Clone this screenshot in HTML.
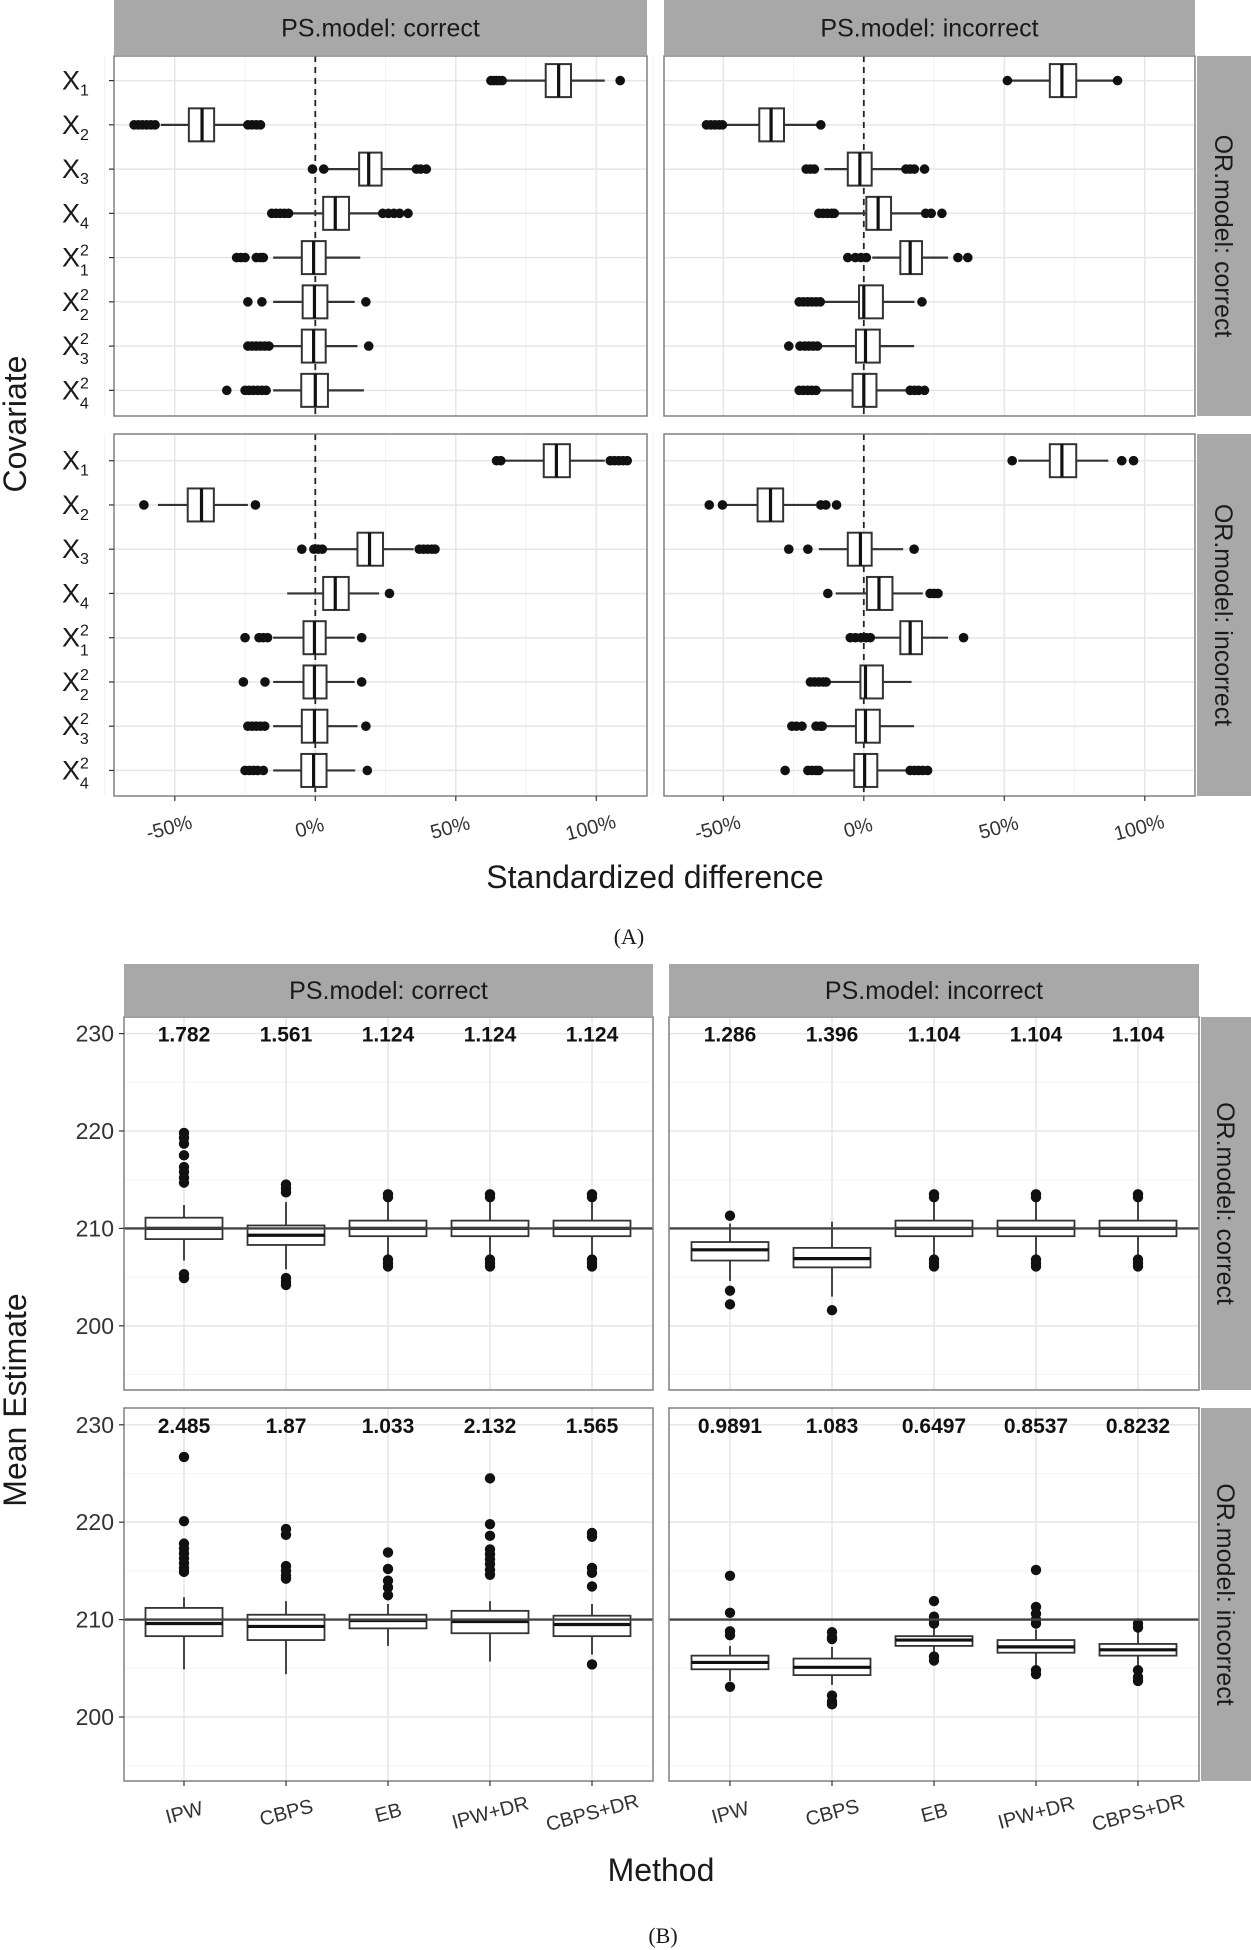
<!DOCTYPE html>
<html><head><meta charset="utf-8"><style>
html,body{margin:0;padding:0;background:#fff;}
svg{display:block;font-family:"Liberation Sans",sans-serif;}
</style></head><body>
<svg id="fig" width="1251" height="1950" viewBox="0 0 1251 1950" xmlns="http://www.w3.org/2000/svg"></svg>
<script>
// ---------- Data: chart A (standardized difference, %) ----------
const covIdx = ['1','2','3','4','1','2','3','4'];
const covSq = [false,false,false,false,true,true,true,true];
const balTicks = [-50,0,50,100];
const balTickLabels = ['-50%','0%','50%','100%'];
// stats rows: [whiskerLow, q1, median, q3, whiskerHigh]
const balTL_stats = [[67,82,86.6,91,103],[-55,-45,-40.3,-36,-25],[3,15.6,19,23.6,35],[-8,2.8,7.1,12,23],[-15,-4.8,-0.6,3.7,16],[-15,-4.5,-0.3,4.3,14],[-15,-4.8,-0.6,3.7,15],[-15,-5,0,4.5,17.3]];
const balTL_out = [[62.5,63.5,64.5,65.5,66.5,108.5],[-64.5,-63,-61.5,-60,-58.5,-57,-24,-22.5,-21,-19.5],[-1,3,36,37.5,39.5],[-15.5,-14,-12.5,-11,-9.5,24,26,28,30,33],[-28,-26.5,-25,-21,-19.5,-18.5],[-24,-19,18],[-24,-22.5,-21,-19.5,-18,-16.5,19],[-31.5,-25,-23.5,-22,-20.5,-19,-17.5]];
const balBL_stats = [[67,81.3,85.8,90.6,103],[-56,-45.4,-40.5,-36.1,-24],[3,15,19.3,24.1,35],[-10,2.8,7.1,11.9,22.7],[-15,-4.2,-0.3,3.7,14],[-15,-4.2,-0.3,4,14],[-15,-4.8,-0.3,4.3,15],[-15,-5,-0.6,4,14.2]];
const balBL_out = [[64.5,66,105,106.5,108,109.5,111],[-61,-21.3],[-4.8,-0.5,1,2.5,37,38.5,40,41.5,42.6],[26.4],[-25,-20,-18.5,-17,16.5],[-25.6,-17.9,16.5],[-24,-22.5,-21,-19.5,-18,18],[-25,-23.5,-22,-20.5,-18.5,18.5]];
const balTR_stats = [[51,66.2,70.5,75.6,90],[-50,-37.2,-33,-28.4,-15.3],[-14,-5.7,-1.4,2.8,14],[-10,0.9,5.1,9.7,21],[3,13,16.5,20.7,30],[-14,-1.7,0,6.8,18],[-16,-2.8,0.6,5.7,17.9],[-16,-4,0,4.5,16]];
const balTR_out = [[51.1,90.3],[-56,-54.5,-53,-51.5,-50.3,-15.3],[-20.5,-19,-17.6,15,16.5,18,21.6],[-16,-14.5,-13,-11.5,-10.5,22,24,27.8],[-5.7,-3,-1,0.9,33.5,37],[-23,-21.5,-20,-18.5,-17,-15.5,20.7],[-26.7,-22.7,-21,-19.5,-18,-16.5],[-23,-21.5,-20,-18.5,-17,16.5,18,19.5,21.6]];
const balBR_stats = [[55,66.2,70.5,75.6,87],[-49,-37.8,-33.2,-28.7,-17],[-16,-5.7,-1.2,2.8,14],[-10,1.1,5.4,10.2,21],[3,13,16.5,20.7,30],[-13,-1.2,0.6,6.8,17],[-14,-2.8,0.6,5.7,17.9],[-16,-3.4,0.3,4.8,16]];
const balBR_out = [[52.8,91.8,96],[-55,-50.3,-15.3,-13.5,-9.7],[-26.7,-19.9,17.9],[-12.8,23.6,25,26.4],[-4.8,-3,-1,0.8,2.3,35.5],[-19,-17.5,-16,-14.5,-13.4],[-25.6,-24,-22,-17,-15.5,-14.8],[-28,-19.9,-18.5,-17,-16,16.5,18,19.5,21,22.7]];

// ---------- Data: chart B (mean estimate) ----------
const methods = ['IPW','CBPS','EB','IPW+DR','CBPS+DR'];
const estTicks = [200,210,220,230];
const trueValue = 210;
const estTL_stats = [[206.7,208.9,210.0,211.1,212.4],[205.8,208.3,209.3,210.3,212.7],[207.2,209.2,210.0,210.8,212.7],[207.2,209.2,210.0,210.8,212.7],[207.2,209.2,210.0,210.8,212.7]];
const estTL_out = [[219.8,219.3,218.7,217.5,216.3,215.8,215.2,214.7,205.3,204.9],[214.5,214.1,213.7,204.9,204.5,204.2],[213.5,213.2,206.8,206.4,206.1],[213.5,213.2,206.8,206.4,206.1],[213.5,213.2,206.8,206.4,206.1]];
const estTR_stats = [[204.6,206.7,207.8,208.6,210.5],[203,206.0,206.9,208.0,210.7],[207.2,209.2,210.0,210.8,212.7],[207.2,209.2,210.0,210.8,212.7],[207.2,209.2,210.0,210.8,212.7]];
const estTR_out = [[211.3,203.6,202.2],[201.6],[213.5,213.2,206.8,206.4,206.1],[213.5,213.2,206.8,206.4,206.1],[213.5,213.2,206.8,206.4,206.1]];
const estBL_stats = [[204.9,208.3,209.6,211.2,212.3],[204.4,207.9,209.3,210.5,211.9],[207.3,209.1,209.9,210.5,211.6],[205.7,208.6,209.8,210.9,211.9],[206.4,208.3,209.5,210.4,211.6]];
const estBL_out = [[226.7,220.1,217.8,217.3,216.8,216.3,215.8,215.3,214.9],[219.3,218.7,215.5,215.0,214.5,214.2],[216.9,215.2,214.0,213.3,212.5],[224.5,219.8,218.6,217.2,216.7,216.2,215.7,215.1,214.6],[218.9,218.5,215.3,214.8,213.4,205.4]];
const estBR_stats = [[203.7,204.9,205.6,206.3,207.3],[203.3,204.3,205.1,206.0,207.2],[206.6,207.3,207.9,208.3,209.3],[205.3,206.6,207.2,207.9,209.0],[205,206.3,206.9,207.5,208.9]];
const estBR_out = [[214.5,210.7,208.8,208.4,203.1],[208.7,208.2,208.0,202.2,201.6,201.3],[211.9,210.3,209.9,209.6,206.2,205.8],[215.1,211.3,210.6,210.0,209.6,204.8,204.4],[209.6,209.2,204.8,204.1,203.7]];
const estTL_labels = ['1.782','1.561','1.124','1.124','1.124'];
const estTR_labels = ['1.286','1.396','1.104','1.104','1.104'];
const estBL_labels = ['2.485','1.87','1.033','2.132','1.565'];
const estBR_labels = ['0.9891','1.083','0.6497','0.8537','0.8232'];

const NS='http://www.w3.org/2000/svg';
const svg=document.getElementById('fig');
function mk(tag,attrs,parent){const e=document.createElementNS(NS,tag);for(const k in attrs)e.setAttribute(k,attrs[k]);(parent||svg).appendChild(e);return e;}
function txt(s,attrs,parent){const e=mk('text',attrs,parent);e.textContent=s;return e;}

function strip(x,y,w,h,label,vertical,name){
  const g=mk('g',{});
  
  
  mk('rect',{x:x,y:y,width:w,height:h,fill:'#a8a8a8'},g);
  if(!vertical){
    txt(label,{x:x+w/2,y:y+h/2+9,'text-anchor':'middle','font-size':25,fill:'#1a1a1a'},g);
  } else {
    txt(label,{x:0,y:0,'text-anchor':'middle','font-size':25,fill:'#1a1a1a',transform:'translate('+(x+w/2-9)+','+(y+h/2)+') rotate(90)'},g);
  }
}

// ---------- Chart A ----------
function balPanel(x0,x1,y0,y1,zeroX,rowY0,stats,outs,name,showY,showX){
  const g=mk('g',{});
  
  
  const sx=v=>zeroX+v*2.81;
  const step=44.25;
  const sy=i=>rowY0+i*step;
  mk('rect',{x:x0,y:y0,width:x1-x0,height:y1-y0,fill:'#fff'},g);
  [-75,-25,25,75].forEach(v=>mk('line',{x1:sx(v),x2:sx(v),y1:y0,y2:y1,stroke:'#f3f3f3','stroke-width':1},g));
  balTicks.forEach(v=>mk('line',{x1:sx(v),x2:sx(v),y1:y0,y2:y1,stroke:'#e6e6e6','stroke-width':1.5},g));
  stats.forEach((s,i)=>mk('line',{x1:x0,x2:x1,y1:sy(i),y2:sy(i),stroke:'#e6e6e6','stroke-width':1.5},g));
  mk('line',{x1:sx(0),x2:sx(0),y1:y0,y2:y1,stroke:'#222','stroke-width':1.8,'stroke-dasharray':'6,5'},g);
  const bh=33;
  stats.forEach((s,i)=>{
    const y=sy(i);
    const bg=mk('g',{},g);
    
    
    mk('line',{x1:sx(s[0]),x2:sx(s[1]),y1:y,y2:y,stroke:'#333','stroke-width':2.2},bg);
    mk('line',{x1:sx(s[3]),x2:sx(s[4]),y1:y,y2:y,stroke:'#333','stroke-width':2.2},bg);
    mk('rect',{x:sx(s[1]),y:y-bh/2,width:sx(s[3])-sx(s[1]),height:bh,fill:'#fff',stroke:'#333','stroke-width':2},bg);
    mk('line',{x1:sx(s[2]),x2:sx(s[2]),y1:y-bh/2,y2:y+bh/2,stroke:'#111','stroke-width':3.2},bg);
    outs[i].forEach(o=>mk('circle',{cx:sx(o),cy:y,r:4.8,fill:'#111'},bg));
  });
  mk('rect',{x:x0,y:y0,width:x1-x0,height:y1-y0,fill:'none',stroke:'#808080','stroke-width':1.5},g);
  if(showY){
    stats.forEach((s,i)=>{
      const y=sy(i);
      mk('line',{x1:x0-5,x2:x0,y1:y,y2:y,stroke:'#333','stroke-width':1.2},g);
      const t=mk('text',{x:62,y:y+9,'font-size':27,fill:'#1a1a1a'},g);
      
      
      const a=mk('tspan',{},t);a.textContent='X';
      if(covSq[i]){
        const sup=mk('tspan',{dy:-11,'font-size':16},t);sup.textContent='2';
        const sub=mk('tspan',{dx:-9,dy:20,'font-size':16},t);sub.textContent=covIdx[i];
      } else {
        const sub=mk('tspan',{dy:6,'font-size':16},t);sub.textContent=covIdx[i];
      }
    });
  }
  if(showX){
    balTicks.forEach((v,j)=>{
      mk('line',{x1:sx(v),x2:sx(v),y1:y1,y2:y1+5,stroke:'#333','stroke-width':1.2},g);
      const t=txt(balTickLabels[j],{x:0,y:0,'text-anchor':'middle','font-size':20,fill:'#333',transform:'translate('+(sx(v)-4)+','+(y1+38)+') rotate(-15)'},g);
      
      
    });
  }
}
strip(114,0,533,55,'PS.model: correct',false,'strip-ps-correct-a');
strip(664,0,531,55,'PS.model: incorrect',false,'strip-ps-incorrect-a');
strip(1197,56,54,360,'OR.model: correct',true,'strip-or-correct-a');
strip(1197,434,54,362,'OR.model: incorrect',true,'strip-or-incorrect-a');
balPanel(114,647,56,416,315.3,80.6,balTL_stats,balTL_out,'panel-a-ps-correct-or-correct',true,false);
balPanel(664,1195,56,416,863.8,80.6,balTR_stats,balTR_out,'panel-a-ps-incorrect-or-correct',false,false);
balPanel(114,647,434,796,315.3,460.7,balBL_stats,balBL_out,'panel-a-ps-correct-or-incorrect',true,true);
balPanel(664,1195,434,796,863.8,460.7,balBR_stats,balBR_out,'panel-a-ps-incorrect-or-incorrect',false,true);
let t;
t=txt('Standardized difference',{x:655,y:888,'text-anchor':'middle','font-size':32,fill:'#1a1a1a'});

t=txt('Covariate',{x:0,y:0,'text-anchor':'middle','font-size':32,fill:'#1a1a1a',transform:'translate(26,424) rotate(-90)'});

t=txt('(A)',{x:629,y:944,'text-anchor':'middle','font-size':22,fill:'#1a1a1a','font-family':'Liberation Serif, serif'});


// ---------- Chart B ----------
function estPanel(x0,x1,y0,y1,cat0,y230,stats,outs,labels,name,showY,showX){
  const g=mk('g',{});
  
  
  const sx=i=>cat0+i*102;
  const sy=v=>y230+(230-v)*9.74;
  mk('rect',{x:x0,y:y0,width:x1-x0,height:y1-y0,fill:'#fff'},g);
  [195,205,215,225].forEach(v=>mk('line',{x1:x0,x2:x1,y1:sy(v),y2:sy(v),stroke:'#f3f3f3','stroke-width':1},g));
  estTicks.forEach(v=>mk('line',{x1:x0,x2:x1,y1:sy(v),y2:sy(v),stroke:'#e6e6e6','stroke-width':1.5},g));
  methods.forEach((m,i)=>mk('line',{x1:sx(i),x2:sx(i),y1:y0,y2:y1,stroke:'#e6e6e6','stroke-width':1.5},g));
  const bw=77;
  stats.forEach((s,i)=>{
    const x=sx(i);
    const bg=mk('g',{},g);
    
    
    mk('line',{x1:x,x2:x,y1:sy(s[0]),y2:sy(s[1]),stroke:'#333','stroke-width':1.8},bg);
    mk('line',{x1:x,x2:x,y1:sy(s[3]),y2:sy(s[4]),stroke:'#333','stroke-width':1.8},bg);
    mk('rect',{x:x-bw/2,y:sy(s[3]),width:bw,height:sy(s[1])-sy(s[3]),fill:'#fff',stroke:'#333','stroke-width':1.8},bg);
    mk('line',{x1:x-bw/2,x2:x+bw/2,y1:sy(s[2]),y2:sy(s[2]),stroke:'#111','stroke-width':3.2},bg);
    outs[i].forEach(o=>mk('circle',{cx:x,cy:sy(o),r:5.2,fill:'#111'},bg));
    const a=txt(labels[i],{x:x,y:sy(230)+8,'text-anchor':'middle','font-size':21,'font-weight':'bold',fill:'#111'},g);
    
    
  });
  mk('line',{x1:x0,x2:x1,y1:sy(trueValue),y2:sy(trueValue),stroke:'#444','stroke-width':2.4},g);
  mk('rect',{x:x0,y:y0,width:x1-x0,height:y1-y0,fill:'none',stroke:'#808080','stroke-width':1.5},g);
  if(showY){
    estTicks.forEach(v=>{
      mk('line',{x1:x0-5,x2:x0,y1:sy(v),y2:sy(v),stroke:'#333','stroke-width':1.2},g);
      const l=txt(String(v),{x:x0-10,y:sy(v)+8,'text-anchor':'end','font-size':23,fill:'#333'},g);
      
      
    });
  }
  if(showX){
    methods.forEach((m,i)=>{
      mk('line',{x1:sx(i),x2:sx(i),y1:y1,y2:y1+5,stroke:'#333','stroke-width':1.2},g);
      const l=txt(m,{x:0,y:0,'text-anchor':'middle','font-size':20,fill:'#333',transform:'translate('+(sx(i)+2)+','+(y1+38)+') rotate(-15)'},g);
      
      
    });
  }
}
strip(124,964,529,52,'PS.model: correct',false,'strip-ps-correct-b');
strip(669,964,530,52,'PS.model: incorrect',false,'strip-ps-incorrect-b');
strip(1201,1017,50,373,'OR.model: correct',true,'strip-or-correct-b');
strip(1201,1408,50,373,'OR.model: incorrect',true,'strip-or-incorrect-b');
estPanel(124,653,1017,1390,184,1033.6,estTL_stats,estTL_out,estTL_labels,'panel-b-ps-correct-or-correct',true,false);
estPanel(669,1199,1017,1390,730,1033.6,estTR_stats,estTR_out,estTR_labels,'panel-b-ps-incorrect-or-correct',false,false);
estPanel(124,653,1408,1781,184,1424.8,estBL_stats,estBL_out,estBL_labels,'panel-b-ps-correct-or-incorrect',true,true);
estPanel(669,1199,1408,1781,730,1424.8,estBR_stats,estBR_out,estBR_labels,'panel-b-ps-incorrect-or-incorrect',false,true);
t=txt('Method',{x:661,y:1881,'text-anchor':'middle','font-size':32,fill:'#1a1a1a'});

t=txt('Mean Estimate',{x:0,y:0,'text-anchor':'middle','font-size':32,fill:'#1a1a1a',transform:'translate(26,1400) rotate(-90)'});

t=txt('(B)',{x:663,y:1943,'text-anchor':'middle','font-size':22,fill:'#1a1a1a','font-family':'Liberation Serif, serif'});

</script>
</body></html>
